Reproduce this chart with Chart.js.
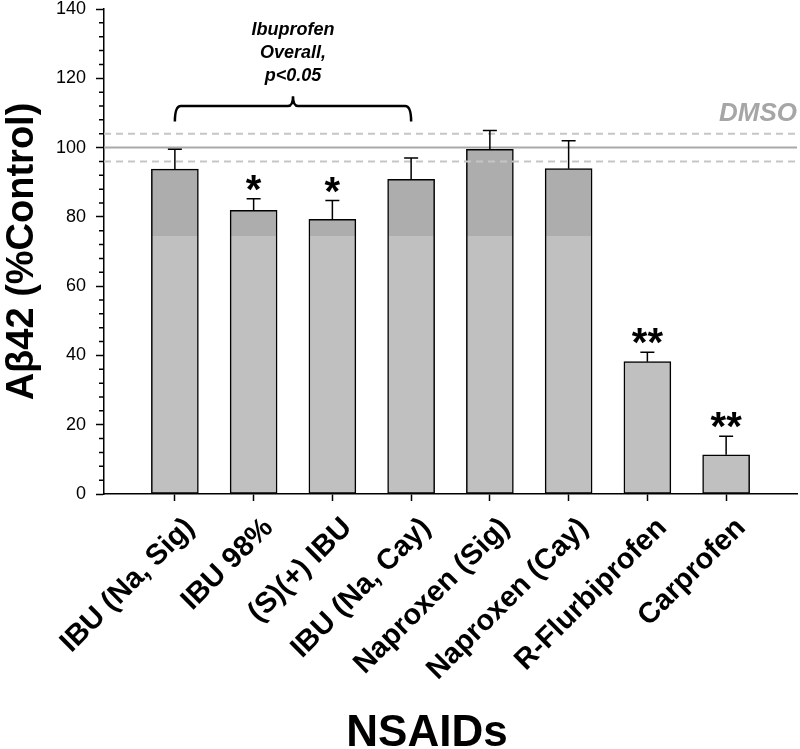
<!DOCTYPE html>
<html>
<head>
<meta charset="utf-8">
<script src="https://cdn.jsdelivr.net/npm/chart.js@4.4.1/dist/chart.umd.min.js"></script>
<style>
  html, body { margin: 0; background: #fff; }
  #wrap { width: 800px; height: 749px; }
</style>
</head>
<body>
<div id="wrap"><canvas id="myChart"></canvas></div>
<script>
// categories
const drugs = ["IBU (Na, Sig)", "IBU 98%", "(S)(+) IBU", "IBU (Na, Cay)",
               "Naproxen (Sig)", "Naproxen (Cay)", "R-Flurbiprofen", "Carprofen"];
// A-beta 42, % of control, and its upper error (SEM)
const abeta = [93.8, 81.9, 79.3, 90.8, 99.5, 93.9, 38.2, 11.3];
const sem = [5.7, 3.3, 5.4, 6.2, 5.4, 8.1, 2.7, 5.4];
const stars = ["", "*", "*", "", "", "", "**", "**"];
// DMSO control band
const dmso = 100;
const dmsoSem = 4;
// bracket over the ibuprofen group
const ibuGroup = [0, 3];
const ibuNote = ["Ibuprofen", "Overall,", "p<0.05"];

const FONT = "'Liberation Sans', Arial, sans-serif";
const light = "#c0c0c0";
const dark = "#adadad";
const shadeFrom = 74.5;

function barFill(c) {
    const chart = c.chart;
    if (!chart.chartArea) return light;
    const y = chart.scales.y;
    const y0 = y.getPixelForValue(0), y1 = y.getPixelForValue(140);
    const g = chart.ctx.createLinearGradient(0, y0, 0, y1);
    const s = shadeFrom / 140;
    g.addColorStop(0, light);
    g.addColorStop(s, light);
    g.addColorStop(s, dark);
    g.addColorStop(1, dark);
    return g;
}

const extras = {
    id: "extras",
    afterDatasetsDraw(chart) {
        const {ctx, chartArea, scales: {x, y}} = chart;
        const meta = chart.getDatasetMeta(0);
        ctx.save();

        // DMSO lines
        ctx.lineWidth = 2;
        ctx.strokeStyle = "#c6c6c6";
        ctx.setLineDash([7, 5]);
        [dmso + dmsoSem, dmso - dmsoSem].forEach(v => {
            const py = y.getPixelForValue(v);
            ctx.beginPath();
            ctx.moveTo(chartArea.left, py);
            ctx.lineTo(chartArea.right, py);
            ctx.stroke();
        });
        ctx.setLineDash([]);
        ctx.strokeStyle = "#a9a9a9";
        const pd = y.getPixelForValue(dmso);
        ctx.beginPath();
        ctx.moveTo(chartArea.left, pd);
        ctx.lineTo(chartArea.right, pd);
        ctx.stroke();
        ctx.fillStyle = "#a6a6a6";
        ctx.font = "italic bold 26px " + FONT;
        ctx.textAlign = "right";
        ctx.textBaseline = "middle";
        ctx.fillText("DMSO", chartArea.right, y.getPixelForValue(110) + 1);

        // error bars + stars
        ctx.strokeStyle = "#000";
        ctx.lineWidth = 1.5;
        ctx.fillStyle = "#000";
        ctx.font = "bold 40px " + FONT;
        ctx.textAlign = "center";
        ctx.textBaseline = "alphabetic";
        meta.data.forEach((bar, i) => {
            const top = y.getPixelForValue(abeta[i] + sem[i]);
            ctx.beginPath();
            ctx.moveTo(bar.x, y.getPixelForValue(abeta[i]));
            ctx.lineTo(bar.x, top);
            ctx.moveTo(bar.x - 7, top);
            ctx.lineTo(bar.x + 7, top);
            ctx.stroke();
            if (stars[i]) ctx.fillText(stars[i], bar.x, top + 4);
        });

        // bracket
        const xa = x.getPixelForValue(ibuGroup[0]);
        const xb = x.getPixelForValue(ibuGroup[1]);
        const xm = (xa + xb) / 2;
        const yEnd = y.getPixelForValue(107.5);
        const yH = y.getPixelForValue(112);
        const yTip = y.getPixelForValue(114.8);
        ctx.lineWidth = 2.5;
        ctx.beginPath();
        ctx.moveTo(xa, yEnd);
        ctx.quadraticCurveTo(xa, yH, xa + 6, yH);
        ctx.lineTo(xm - 5, yH);
        ctx.quadraticCurveTo(xm, yH, xm, yTip);
        ctx.quadraticCurveTo(xm, yH, xm + 5, yH);
        ctx.lineTo(xb - 6, yH);
        ctx.quadraticCurveTo(xb, yH, xb, yEnd);
        ctx.stroke();
        ctx.font = "italic bold 18px " + FONT;
        ctx.textBaseline = "middle";
        ibuNote.forEach((t, k) => {
            ctx.fillText(t, xm, y.getPixelForValue(134) + k * 23);
        });

        // minor ticks on y
        ctx.lineWidth = 1.5;
        ctx.beginPath();
        for (let v = 4; v < 140; v += 4) {
            if (v % 20 === 0) continue;
            const py = y.getPixelForValue(v);
            ctx.moveTo(chartArea.left - 5, py);
            ctx.lineTo(chartArea.left, py);
        }
        ctx.stroke();

        // x title
        ctx.font = "bold 44px " + FONT;
        ctx.textAlign = "center";
        ctx.textBaseline = "alphabetic";
        ctx.fillText("NSAIDs", chartArea.left + 323, 746);
        ctx.restore();
    }
};

const ctx = document.getElementById("myChart");
const myChart = new Chart(ctx, {
    type: "bar",
    data: {
        datasets: [{
            data: abeta.map((v, i) => ({x: i, y: v})),
            backgroundColor: barFill,
            borderColor: "#000",
            borderWidth: 1.5,
            borderSkipped: false,
            barThickness: 47
        }]
    },
    options: {
        responsive: true,
        maintainAspectRatio: false,
        animation: false,
        layout: {padding: {top: 0, right: 3, left: 0, bottom: 0}},
        plugins: {legend: {display: false}, tooltip: {enabled: false}},
        scales: {
            x: {
                type: "linear",
                offset: false,
                min: -0.9,
                max: 7.9,
                afterBuildTicks: s => { s.ticks = drugs.map((d, i) => ({value: i})); },
                afterFit: s => { s.height = 255; },
                grid: {display: true, drawOnChartArea: false, drawTicks: true, offset: false,
                       tickLength: 7, tickWidth: 1.5, tickColor: "#000"},
                border: {display: true, color: "#000", width: 1.5},
                ticks: {
                    autoSkip: false,
                    minRotation: 45,
                    maxRotation: 45,
                    padding: 10,
                    labelOffset: 15,
                    color: "#000",
                    font: {family: FONT, size: 29, weight: "bold"},
                    callback: (v, i) => drugs[i]
                }
            },
            y: {
                min: 0,
                max: 140,
                afterFit: s => { s.width = 104; s.paddingTop = 9; s.paddingBottom = 0; },
                grid: {display: true, drawOnChartArea: false, drawTicks: true,
                       tickLength: 8, tickWidth: 1.5, tickColor: "#000"},
                border: {display: true, color: "#000", width: 1.5},
                ticks: {
                    stepSize: 20,
                    padding: 10,
                    color: "#000",
                    font: {family: FONT, size: 18, lineHeight: 1}
                },
                title: {
                    display: true,
                    text: "Aβ42 (%Control)",
                    color: "#000",
                    padding: {top: 0, bottom: 0},
                    font: {family: FONT, size: 38, weight: "bold"}
                }
            }
        }
    },
    plugins: [extras]
});
</script>
</body>
</html>
